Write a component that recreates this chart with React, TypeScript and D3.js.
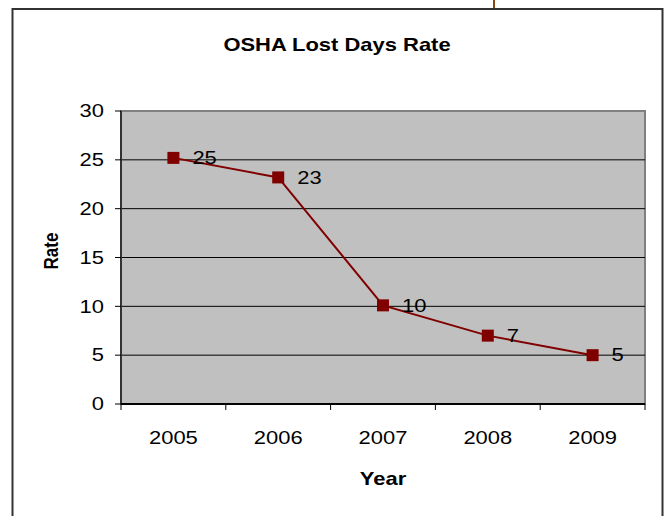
import React from "react";
import * as d3 from "d3";

const years = ["2005", "2006", "2007", "2008", "2009"];
const rates = [25.2, 23.2, 10.1, 7.0, 5.0];
const yTicks = [0, 5, 10, 15, 20, 25, 30];

const width = 664;
const height = 516;
const plot = { left: 121, right: 645, top: 111, bottom: 404 };
const font = "'Liberation Sans', Arial, sans-serif";
const red = "#800000";
const stretch = 1.22; // the original picture is a bit wider than tall

// text drawn with a slight horizontal stretch like the source image
const T = ({ x, y, anchor = "start", size = 18, bold = false, dy = "0", children }: any) => (
  <text
    transform={`translate(${x},${y}) scale(${stretch},1)`}
    textAnchor={anchor}
    fontSize={size}
    fontWeight={bold ? "bold" : "normal"}
    dy={dy}
  >
    {children}
  </text>
);

const App = () => {
  const x = d3
    .scaleBand()
    .domain(years)
    .range([plot.left, plot.right])
    .padding(0);
  const y = d3.scaleLinear().domain([0, 30]).range([plot.bottom, plot.top]);

  const line = d3
    .line<number>()
    .x((d, i) => x(years[i])! + x.bandwidth() / 2)
    .y((d) => y(d));

  // band edges for the category ticks
  const edges = years.map((yr) => x(yr)!).concat([plot.right]);

  return (
    <svg
      width={width}
      height={height}
      style={{ position: "absolute", left: 0, top: 0, display: "block" }}
      fontFamily={font}
    >
      <rect x={0} y={0} width={width} height={height} fill="#fff" />
      <line x1={494} x2={494} y1={0} y2={9} stroke="#8B4513" strokeWidth={2} />
      <rect
        x={12.5}
        y={9}
        width={650}
        height={530}
        fill="#fff"
        stroke="#333"
        strokeWidth={2}
      />

      <T x={337} y={51} anchor="middle" bold>
        OSHA Lost Days Rate
      </T>

      {/* plot area */}
      <rect
        x={plot.left}
        y={plot.top}
        width={plot.right - plot.left}
        height={plot.bottom - plot.top}
        fill="#C0C0C0"
        stroke="#808080"
        strokeWidth={2}
      />
      {yTicks
        .filter((t) => t > 0 && t < 30)
        .map((t) => (
          <line
            key={t}
            x1={plot.left}
            x2={plot.right}
            y1={y(t)}
            y2={y(t)}
            stroke="#000"
            strokeWidth={1}
          />
        ))}

      {/* y axis */}
      <line x1={plot.left} x2={plot.left} y1={plot.top} y2={plot.bottom} stroke="#333" strokeWidth={2} />
      {yTicks.map((t) => (
        <g key={t}>
          <line x1={plot.left - 6} x2={plot.left} y1={y(t)} y2={y(t)} stroke="#000" />
          <T x={104} y={y(t)} dy="0.35em" anchor="end">
            {t}
          </T>
        </g>
      ))}

      {/* x axis */}
      <line x1={plot.left} x2={plot.right} y1={plot.bottom} y2={plot.bottom} stroke="#000" strokeWidth={2} />
      {edges.map((e, i) => (
        <line key={i} x1={e} x2={e} y1={plot.bottom} y2={plot.bottom + 6} stroke="#000" />
      ))}
      {years.map((yr) => (
        <T key={yr} x={x(yr)! + x.bandwidth() / 2} y={444} anchor="middle">
          {yr}
        </T>
      ))}

      <T x={383} y={485} anchor="middle" bold>
        Year
      </T>
      <text
        transform={`translate(58,251) rotate(-90) scale(1,${stretch})`}
        textAnchor="middle"
        fontSize={17}
        fontWeight="bold"
      >
        Rate
      </text>

      {/* series */}
      <path d={line(rates)!} fill="none" stroke={red} strokeWidth={2} />
      {rates.map((r, i) => {
        const cx = x(years[i])! + x.bandwidth() / 2;
        const cy = y(r);
        return (
          <g key={i}>
            <rect x={cx - 6} y={cy - 6} width={12} height={12} fill={red} />
            <T x={cx + 19} y={cy} dy="0.35em">
              {d3.format(".0f")(r)}
            </T>
          </g>
        );
      })}
    </svg>
  );
};

export default App;
